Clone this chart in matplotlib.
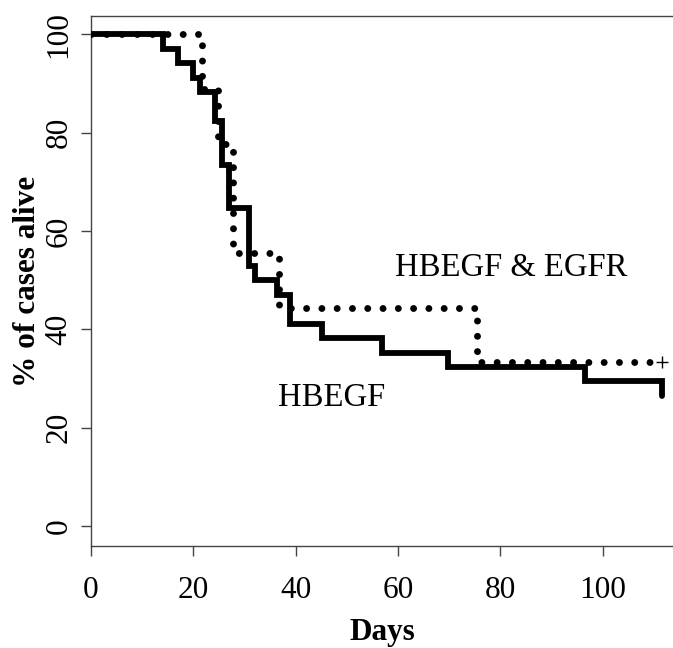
import numpy as np
import matplotlib
import matplotlib.pyplot as plt

matplotlib.use('agg')

# HBEGF (solid line), Kaplan-Meier steps
hbegf_days = [0, 14, 17, 20, 21.3, 24.3, 25.6, 26.9, 30.9, 32, 36.3, 38.9, 45.1, 56.8, 69.8, 96.5, 111.5]
hbegf_surv = [100, 97.06, 94.12, 91.18, 88.24, 82.35, 73.53, 64.71, 52.94, 50.0, 47.06, 41.18, 38.24,
              35.29, 32.35, 29.41, 26.47]

# HBEGF & EGFR (dotted line)
both_days = [0, 21.7, 24.9, 27.7, 36.8, 75.4, 111.5]
both_surv = [100, 88.9, 77.8, 55.6, 44.4, 33.3, 33.3]

x_ticks = [0, 20, 40, 60, 80, 100]
y_ticks = [0, 20, 40, 60, 80, 100]

SERIF = 'Liberation Serif'

fig = plt.figure(figsize=(6.73, 6.48), dpi=100)
ax = fig.add_axes([91 / 673, 102.3 / 648, (673 - 91) / 673, 631.7 / 648 - 102.3 / 648])

ax.step(hbegf_days, hbegf_surv, where='post', color='black', lw=4.2,
        solid_capstyle='round', solid_joinstyle='miter', zorder=2)
ax.step(both_days, both_surv, where='post', color='black', lw=5.0,
        linestyle=(0, (0.001, 2.2)), dash_capstyle='round', zorder=3)
ax.plot([both_days[-1]], [both_surv[-1]], marker='+', color='black', ms=9, mew=1, zorder=4)

ax.text(82, 52.5, 'HBEGF & EGFR', fontsize=23.5, family=SERIF, ha='center', va='center')
ax.text(47, 26.2, 'HBEGF', fontsize=23.5, family=SERIF, ha='center', va='center')

ax.set_xlim(0, 113.7)
ax.set_ylim(-4, 103.7)

ax.spines['right'].set_visible(False)
for s in ['left', 'top', 'bottom']:
    ax.spines[s].set_color('#444444')
    ax.spines[s].set_linewidth(1.0)

ax.set_xticks(x_ticks)
ax.set_yticks(y_ticks)
ax.tick_params(axis='both', length=7.5, width=1.0, color='#444444', labelsize=22.5)
ax.tick_params(axis='x', pad=14)
ax.tick_params(axis='y', pad=5, labelrotation=90)
for lab in ax.get_xticklabels() + ax.get_yticklabels():
    lab.set_family(SERIF)
for lab in ax.get_yticklabels():
    lab.set_va('center')

ax.set_xlabel('Days', fontsize=22.5, family=SERIF, fontweight='bold', labelpad=10)
ax.set_ylabel('% of cases alive', fontsize=22.5, family=SERIF, fontweight='bold', labelpad=2)

fig.savefig('out.png', dpi=100)
